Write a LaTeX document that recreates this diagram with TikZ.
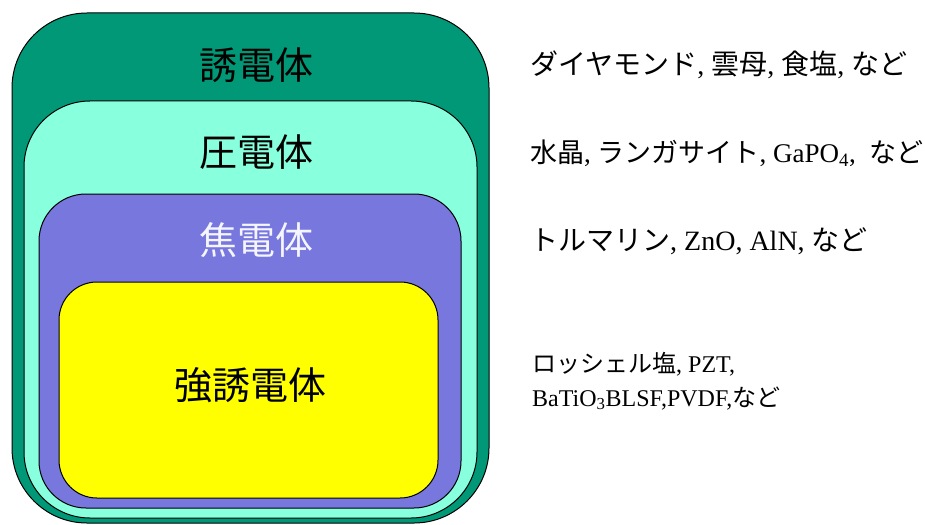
\documentclass[tikz,border=0pt]{standalone}
\usepackage{fontspec}
\setmainfont{Liberation Serif}
\newfontfamily\jp{Noto Sans CJK JP}
\definecolor{dgreen}{RGB}{0,152,118}
\definecolor{aqua}{RGB}{136,255,221}
\definecolor{lilac}{RGB}{119,119,221}
\definecolor{yel}{RGB}{255,255,0}
\definecolor{paleW}{RGB}{245,245,255}
\begin{document}
\begin{tikzpicture}[x=1pt,y=-1pt,
  layer/.style={draw=black, line width=1pt, inner sep=0pt},
  biglabel/.style={font=\jp\fontsize{38}{42}\selectfont, inner sep=0pt},
  sidetext/.style={anchor=west, inner sep=0pt, font=\fontsize{28}{32}\selectfont}]
\useasboundingbox (0,0) rectangle (925,524);
\node[layer, fill=dgreen, rounded corners=75pt, minimum width=477pt, minimum height=510pt] (diel) at (250.5,268) {};
\node[layer, fill=aqua, rounded corners=66pt, minimum width=453pt, minimum height=417pt] (piezo) at (250.5,309.5) {};
\node[layer, fill=lilac, rounded corners=47pt, minimum width=422pt, minimum height=314pt] (pyro) at (250,351) {};
\node[layer, fill=yel, rounded corners=38pt, minimum width=379pt, minimum height=216pt] (ferro) at (248.5,390) {};

\node[biglabel] (l1) at (256,65) {誘電体};
\node[biglabel] (l2) at (256,152) {圧電体};
\node[biglabel, text=paleW] (l3) at (256,240) {焦電体};
\node[biglabel] (l4) at (250,385) {強誘電体};

\node[sidetext] (t1) at (530,65) {{\jp ダイヤモンド}, {\jp 雲母}, {\jp 食塩}, {\jp など}};
\node[sidetext, font=\fontsize{27}{32}\selectfont] (t2) at (530,153) {{\jp 水晶}, {\jp ランガサイト}, GaPO\textsubscript{4}, \ {\jp など}};
\node[sidetext] (t3) at (530,241) {{\jp トルマリン}, ZnO, AlN, {\jp など}};
\node[sidetext, font=\fontsize{24}{34}\selectfont, align=left] (t4) at (532,381) {{\jp ロッシェル塩}, PZT,\\BaTiO\textsubscript{3}BLSF,PVDF,{\jp など}};
\end{tikzpicture}
\end{document}
